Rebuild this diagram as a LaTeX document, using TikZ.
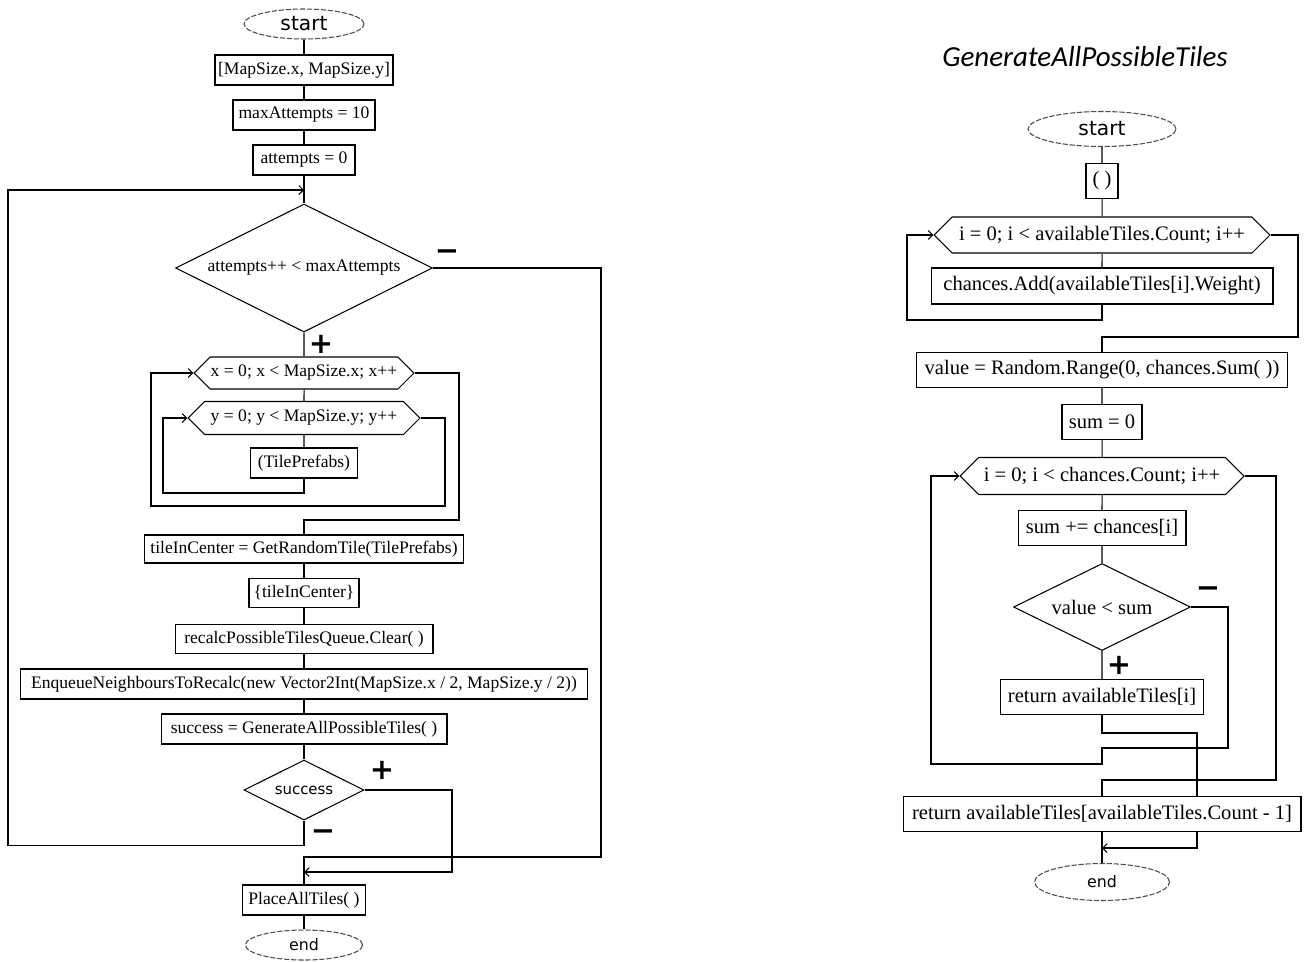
\documentclass[tikz,border=0pt]{standalone}
\usepackage{fontspec}
\setmainfont{Liberation Serif}
\setsansfont{DejaVu Sans}
\newfontfamily\titlefont{Carlito}
\usetikzlibrary{shapes.geometric,shapes.symbols,arrows.meta}

\begin{document}
\begin{tikzpicture}[x=0.02cm,y=-0.02cm,
  >={Straight Barb[length=2.5pt,width=5pt]},
  every node/.style={inner sep=0pt},
  every path/.style={line width=0.6pt},
  block/.style={draw,fill=white,minimum height=0.6cm,font=\fontsize{10}{12}\selectfont},
  rblock/.style={block,minimum height=0.7cm,font=\fontsize{11.7}{13}\selectfont},
  decision/.style={diamond,shape aspect=2,draw,fill=white,font=\fontsize{10}{12}\selectfont},
  rdecision/.style={decision,font=\fontsize{11.7}{13}\selectfont},
  loophead/.style={signal,signal to=west and east,draw,fill=white,font=\fontsize{10}{12}\selectfont},
  rloophead/.style={loophead,font=\fontsize{11.7}{13}\selectfont},
  terminal/.style={ellipse,draw=black!70,dash pattern=on 3pt off 1pt,fill=white,font=\sffamily\fontsize{11.5}{13}\selectfont},
  sign/.style={font=\sffamily\bfseries\fontsize{16.5}{16.5}\selectfont}]
  \useasboundingbox (0,0) rectangle (1307,961);

  % main procedure
  \node (start) [terminal,minimum width=2.4cm,minimum height=0.6cm] at (304,24) {start};
  \node (mapsize) [block,minimum width=3.56cm] at (304,70) {[MapSize.x, MapSize.y]};
  \node (maxatt) [block,minimum width=2.84cm] at (304,115) {maxAttempts = 10};
  \node (att) [block,minimum width=2.04cm] at (304,160) {attempts = 0};
  \node (trial) [decision,minimum width=5.14cm,minimum height=2.56cm] at (304,268) {attempts++ < maxAttempts};
  \node (xloop) [loophead,minimum width=4.4cm,minimum height=0.64cm] at (304,373) {x = 0; x < MapSize.x; x++};
  \node (yloop) [loophead,minimum width=4.64cm,minimum height=0.66cm] at (304,418) {y = 0; y < MapSize.y; y++};
  \node (prefabs) [block,minimum width=2.14cm] at (304,463) {(TilePrefabs)};
  \node (centre) [block,minimum width=6.38cm,minimum height=0.56cm] at (304,549) {tileInCenter = GetRandomTile(TilePrefabs)};
  \node (tileset) [block,minimum width=2.2cm,minimum height=0.58cm] at (304,593) {\{tileInCenter\}};
  \node (clear) [block,minimum width=5.16cm,minimum height=0.58cm] at (304,639) {recalcPossibleTilesQueue.Clear( )};
  \node (enqueue) [block,minimum width=11.34cm] at (304,684) {EnqueueNeighboursToRecalc(new Vector2Int(MapSize.x / 2, MapSize.y / 2))};
  \node (generate) [block,minimum width=5.72cm] at (304,729) {success = GenerateAllPossibleTiles( )};
  \node (success) [decision,minimum width=2.4cm,minimum height=1.2cm,font=\sffamily\fontsize{8.5}{10}\selectfont] at (304,790) {success};
  \node (place) [block,minimum width=2.46cm] at (304,900) {PlaceAllTiles( )};
  \node (stop) [terminal,minimum width=2.34cm,minimum height=0.6cm,font=\sffamily\fontsize{9}{11}\selectfont] at (304,945) {end};

  \node (trialno) [sign] at (447,255) {−};
  \node (trialyes) [sign] at (321,344) {+};
  \node (successyes) [sign] at (382,770) {+};
  \node (successno) [sign] at (323,835) {−};

  \coordinate (retry) at (304,190);
  \coordinate (quit) at (304,857);
  \coordinate (done) at (304,872);

  \draw (start) -- (mapsize) -- (maxatt) -- (att) -- (trial);
  \draw (trial) -- (xloop) -- (yloop) -- (prefabs);
  \draw (centre) -- (tileset) -- (clear) -- (enqueue) -- (generate) -- (success);
  \draw (place) -- (stop);
  \draw[->] (prefabs.south) |- (163,493) |- (yloop.west);
  \draw[->] (yloop.east) -| (445,506) -| (151,373) -- (xloop.west);
  \draw (xloop.east) -| (459,520) -| (centre.north);
  \draw[->] (success.south) -- ++(0,25) -| (8,190) -- (retry);
  \draw (trial.east) -| (601,857) -- (quit) -- (place);
  \draw[->] (success.east) -| (452,872) -- (done);

  % GenerateAllPossibleTiles
  \node (title) [font=\titlefont\itshape\fontsize{16.5}{19}\selectfont] at (1085,57) {GenerateAllPossibleTiles};
  \node (gstart) [terminal,minimum width=2.96cm,minimum height=0.7cm] at (1102,129) {start};
  \node (args) [rblock,minimum width=0.64cm] at (1102,181) {( )};
  \node (tileloop) [rloophead,minimum width=6.72cm,minimum height=0.72cm] at (1102,235) {i = 0; i < availableTiles.Count; i++};
  \node (weight) [rblock,minimum width=6.84cm,minimum height=0.72cm] at (1102,286) {chances.Add(availableTiles[i].Weight)};
  \node (value) [rblock,minimum width=7.42cm] at (1102,370) {value = Random.Range(0, chances.Sum( ))};
  \node (sum) [rblock,minimum width=1.6cm] at (1102,422) {sum = 0};
  \node (chanceloop) [rloophead,minimum width=5.68cm,minimum height=0.74cm] at (1102,476) {i = 0; i < chances.Count; i++};
  \node (addsum) [rblock,minimum width=3.36cm] at (1102,528) {sum += chances[i]};
  \node (pick) [rdecision,minimum width=3.54cm,minimum height=1.74cm] at (1102,607) {value < sum};
  \node (found) [rblock,minimum width=4.06cm] at (1102,697) {return availableTiles[i]};
  \node (fallback) [rblock,minimum width=7.96cm] at (1102,814) {return availableTiles[availableTiles.Count - 1]};
  \node (gstop) [terminal,minimum width=2.7cm,minimum height=0.74cm,font=\sffamily\fontsize{9}{11}\selectfont] at (1102,882) {end};

  \node (pickno) [sign] at (1208,592) {−};
  \node (pickyes) [sign] at (1119,665) {+};

  \coordinate (gdone) at (1102,848);

  \draw (gstart) -- (args) -- (tileloop) -- (weight);
  \draw[->] (weight.south) |- (907,320) |- (tileloop.west);
  \draw (tileloop.east) -| (1298,337) -| (value.north);
  \draw (value) -- (sum) -- (chanceloop) -- (addsum) -- (pick) -- (found);
  \draw[->] (pick.east) -| (1228,748) -| (1102,764) -| (931,476) -- (chanceloop.west);
  \draw (chanceloop.east) -| (1276,780) -| (fallback.north);
  \draw (found.south) |- (1197,733) -- (1197,797);
  \draw[->] (1197,832) -- (1197,848) -- (gdone);
  \draw (fallback) -- (gstop);
\end{tikzpicture}
\end{document}
